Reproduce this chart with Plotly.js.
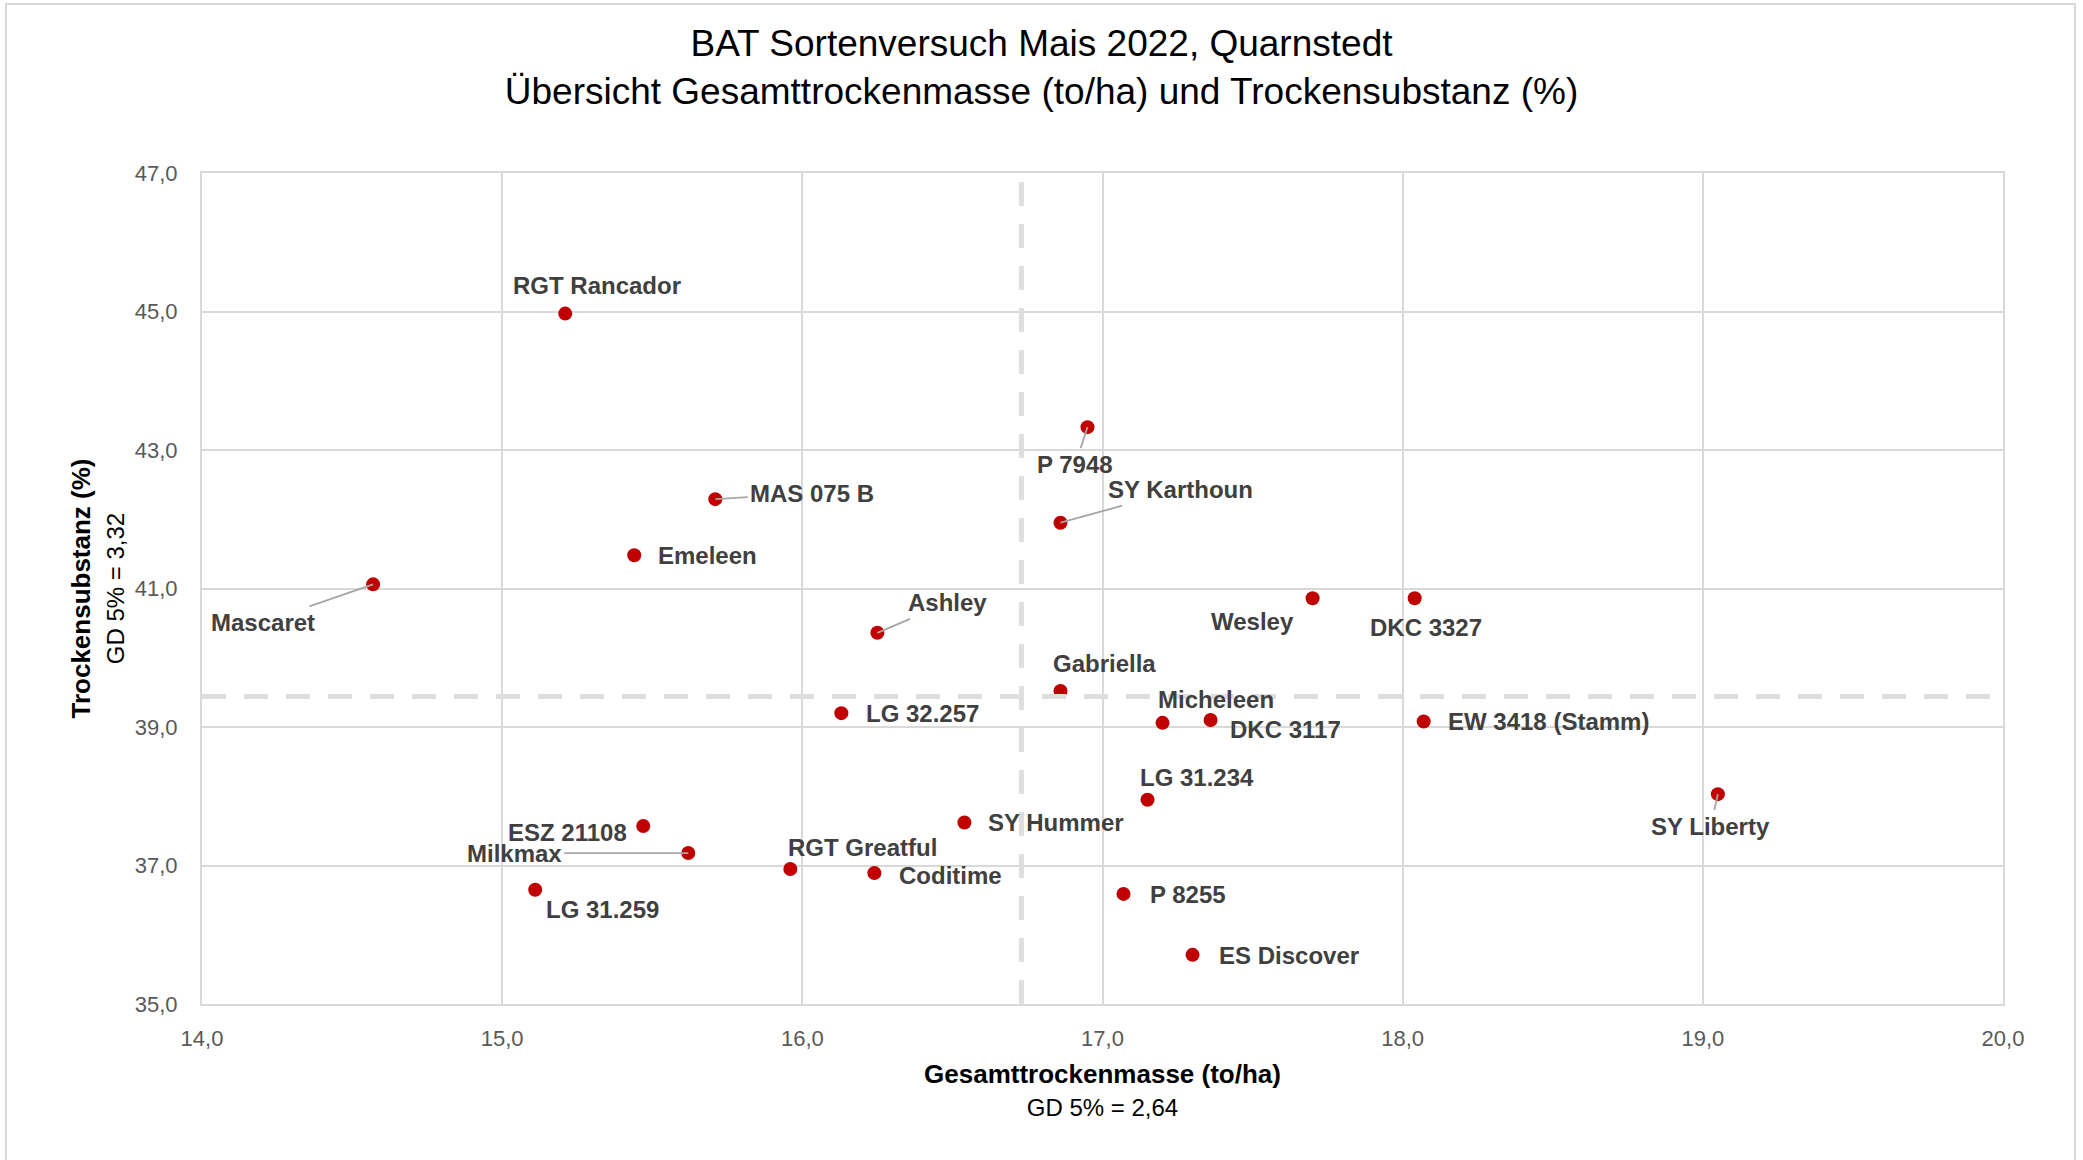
<!DOCTYPE html>
<html>
<head>
<meta charset="utf-8">
<script src="https://cdn.plot.ly/plotly-3.0.1.min.js"></script>
<style>
  html, body { margin: 0; padding: 0; background: #ffffff; }
  #wrap { position: relative; width: 2083px; height: 1160px; overflow: hidden; }
  #chart { position: absolute; left: 0; top: 0; width: 2083px; height: 1160px; }
  #frame { position: absolute; left: 5px; top: 3px; width: 2071px; height: 1200px;
           border: 2px solid #d9d9d9; pointer-events: none; box-sizing: border-box; }
</style>
</head>
<body>
<div id="wrap">
  <div id="chart"></div>
  <div id="frame"></div>
</div>
<script>
// ---- data ----
const sorten = ["Mascaret", "RGT Rancador", "Emeleen", "MAS 075 B", "P 7948", "SY Karthoun",
  "Wesley", "DKC 3327", "Ashley", "Gabriella", "LG 32.257", "Micheleen", "DKC 3117",
  "EW 3418 (Stamm)", "LG 31.234", "SY Hummer", "SY Liberty", "ESZ 21108", "Milkmax",
  "LG 31.259", "RGT Greatful", "Coditime", "P 8255", "ES Discover"];
const gesamtTrockenmasse = [14.57, 15.21, 15.44, 15.71, 16.95, 16.86,
  17.70, 18.04, 16.25, 16.86, 16.13, 17.20, 17.36,
  18.07, 17.15, 16.54, 19.05, 15.47, 15.62,
  15.11, 15.96, 16.24, 17.07, 17.30];
const trockensubstanz = [41.06, 44.97, 41.48, 42.29, 43.33, 41.95,
  40.86, 40.86, 40.36, 39.52, 39.20, 39.06, 39.10,
  39.08, 37.95, 37.62, 38.03, 37.57, 37.18,
  36.65, 36.95, 36.89, 36.59, 35.71];
const mittelGTM = 16.73;   // vertical dashed reference line
const mittelTS = 39.44;    // horizontal dashed reference line
const xRange = [14, 20];
const yRange = [35, 47];

// ---- label placement (styling only) ----
// plain labels: [xanchor, dx, dy] in screen px (dy positive = down)
const plainLabels = {
  "RGT Rancador": ["center", 32, -28],
  "Emeleen": ["left", 22, 0],
  "Wesley": ["right", -17, 23],
  "DKC 3327": ["center", 11, 29],
  "Gabriella": ["center", 44, -27],
  "LG 32.257": ["left", 23, 0],
  "Micheleen": ["center", 53, -23],
  "DKC 3117": ["left", 17, 9],
  "EW 3418 (Stamm)": ["left", 22, 0],
  "LG 31.234": ["center", 49, -22],
  "SY Hummer": ["left", 22, 0],
  "ESZ 21108": ["right", -14, 6],
  "LG 31.259": ["left", 9, 20],
  "RGT Greatful": ["center", 72, -21],
  "Coditime": ["left", 23, 2],
  "P 8255": ["left", 24, 1],
  "ES Discover": ["left", 24, 1]
};
// labels with leader lines: [ax, ay] offset of label centre from point
const leaderLabels = {
  "Mascaret": [-110, 38],
  "MAS 075 B": [97, -6],
  "P 7948": [-12, 37],
  "SY Karthoun": [120, -33],
  "Ashley": [70, -30],
  "SY Liberty": [-7, 32],
  "Milkmax": [-174, 0]
};

const FONT = '"Liberation Sans", Arial, sans-serif';
const labelFont = {family: FONT, size: 24, color: '#404040', weight: 'bold'};

const annotations = [];
sorten.forEach((name, i) => {
  const x = gesamtTrockenmasse[i], y = trockensubstanz[i];
  if (leaderLabels[name]) {
    const [ax, ay] = leaderLabels[name];
    annotations.push({
      x: x, y: y, xref: 'x', yref: 'y', text: name, font: labelFont,
      showarrow: true, ax: ax, ay: ay, arrowhead: 0, arrowwidth: 1.8,
      arrowcolor: '#a6a6a6', standoff: 0, startstandoff: 0, borderpad: 2
    });
  } else {
    const [anc, dx, dy] = plainLabels[name];
    annotations.push({
      x: x, y: y, xref: 'x', yref: 'y', text: name, font: labelFont,
      showarrow: false, xanchor: anc, yanchor: 'middle', xshift: dx, yshift: -dy
    });
  }
});

const traces = [
  {
    type: 'scatter', mode: 'markers', x: gesamtTrockenmasse, y: trockensubstanz,
    text: sorten, hoverinfo: 'text+x+y',
    marker: {color: '#c00000', size: 14, line: {width: 0}}, showlegend: false, cliponaxis: false
  },
  {
    type: 'scatter', mode: 'lines', x: [mittelGTM, mittelGTM], y: yRange,
    line: {color: '#dedede', width: 5, dash: '24px,18px'}, hoverinfo: 'skip', showlegend: false
  },
  {
    type: 'scatter', mode: 'lines', x: xRange, y: [mittelTS, mittelTS],
    line: {color: '#dedede', width: 5, dash: '24px,18px'}, hoverinfo: 'skip', showlegend: false
  }
];

const axisCommon = {
  showgrid: true, gridcolor: '#d9d9d9', gridwidth: 2,
  showline: true, linecolor: '#d9d9d9', linewidth: 2, mirror: true,
  zeroline: false, ticks: '', tickformat: '.1f',
  tickfont: {family: FONT, size: 22, color: '#595959'}
};

const layout = {
  width: 2083, height: 1160, autosize: false,
  margin: {l: 202, r: 80, t: 173, b: 156, pad: 0},
  paper_bgcolor: '#ffffff', plot_bgcolor: '#ffffff',
  separators: ',.',
  font: {family: FONT},
  title: {
    text: 'BAT Sortenversuch Mais 2022, Quarnstedt<br>Übersicht Gesamttrockenmasse (to/ha) und Trockensubstanz (%)',
    font: {family: FONT, size: 37, color: '#000000'},
    x: 0.5, xref: 'container', xanchor: 'center',
    y: 1 - 56 / 1160, yref: 'container', yanchor: 'top'
  },
  xaxis: Object.assign({}, axisCommon, {
    range: xRange, tick0: 14, dtick: 1, ticklabelstandoff: 14,
    title: {
      text: '<b>Gesamttrockenmasse (to/ha)</b><br><span style="font-size:24px">GD 5% = 2,64</span>',
      font: {family: FONT, size: 26, color: '#000000'}, standoff: 14
    }
  }),
  yaxis: Object.assign({}, axisCommon, {
    range: yRange, tick0: 35, dtick: 2, ticklabelstandoff: 18,
    title: {
      text: '<b>Trockensubstanz (%)</b><br><span style="font-size:24px">GD 5% = 3,32</span>',
      font: {family: FONT, size: 26, color: '#000000'}, standoff: 3
    }
  }),
  annotations: annotations,
  showlegend: false
};

Plotly.newPlot('chart', traces, layout, {displayModeBar: false, staticPlot: true});
</script>
</body>
</html>
